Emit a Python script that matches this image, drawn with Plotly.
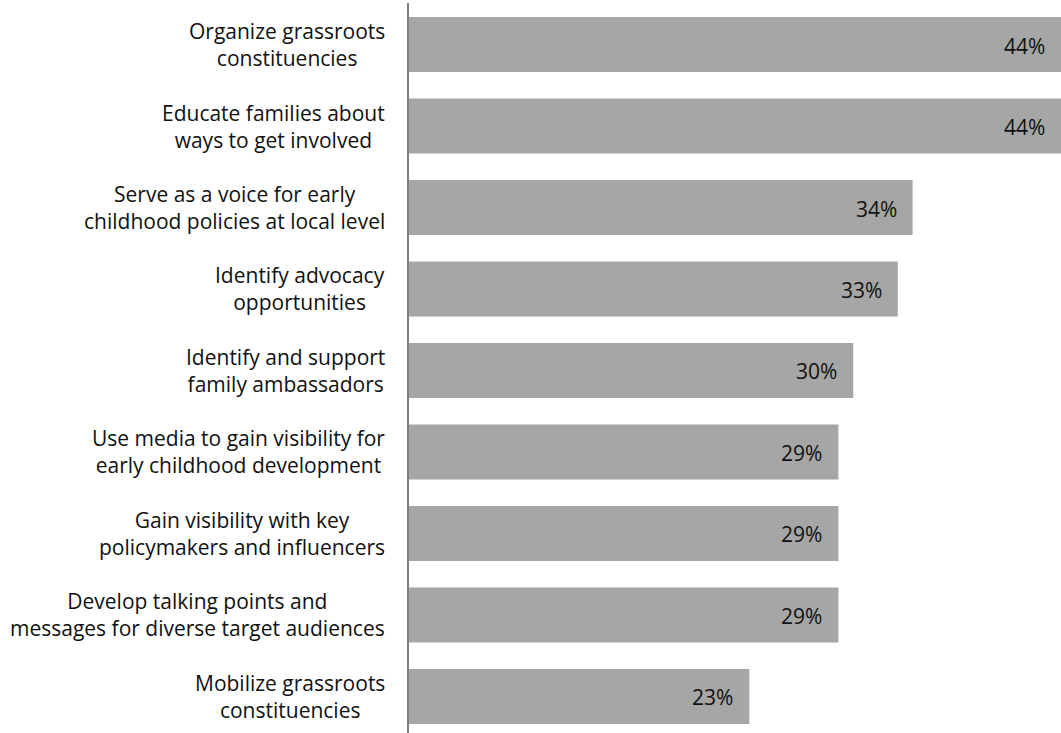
import plotly.graph_objects as go

categories = [
    "Organize grassroots<br>constituencies",
    "Educate families about<br>ways to get involved",
    "Serve as a voice for early<br>childhood policies at local level",
    "Identify advocacy<br>opportunities",
    "Identify and support<br>family ambassadors",
    "Use media to gain visibility for<br>early childhood development",
    "Gain visibility with key<br>policymakers and influencers",
    "Develop talking points and<br>messages for diverse target audiences",
    "Mobilize grassroots<br>constituencies",
]
values = [44, 44, 34, 33, 30, 29, 29, 29, 23]
value_labels = [f"{v}%" for v in values]

idx = list(range(len(categories)))

fig = go.Figure(
    go.Bar(
        x=values,
        y=idx,
        orientation="h",
        marker=dict(color="#a6a6a6", line=dict(width=0)),
        width=0.675,
        hoverinfo="skip",
    )
)

annotations = []
for i, (cat, v, lab) in enumerate(zip(categories, values, value_labels)):
    annotations.append(dict(
        xref="paper", yref="y", x=0, y=i, text=cat,
        xanchor="right", yanchor="middle", align="center", xshift=-21,
        showarrow=False, font=dict(family="Open Sans", size=21, color="#111111"),
    ))
    annotations.append(dict(
        xref="x", yref="y", x=v, y=i, text=lab,
        xanchor="right", yanchor="middle", xshift=-14, yshift=-1,
        showarrow=False, font=dict(family="Open Sans", size=21, color="#111111"),
    ))

fig.update_layout(
    width=1061, height=733,
    margin=dict(l=408, r=0, t=0, b=0),
    paper_bgcolor="white", plot_bgcolor="white",
    showlegend=False,
    annotations=annotations,
    xaxis=dict(range=[0, 44], visible=False, fixedrange=True),
    yaxis=dict(range=[8.448, -0.546], visible=False, fixedrange=True),
    shapes=[dict(
        type="line", xref="paper", yref="paper", x0=0, x1=0, y0=0, y1=0.996,
        line=dict(color="#7f7f7f", width=2),
    )],
)

fig.write_html("out.html")
